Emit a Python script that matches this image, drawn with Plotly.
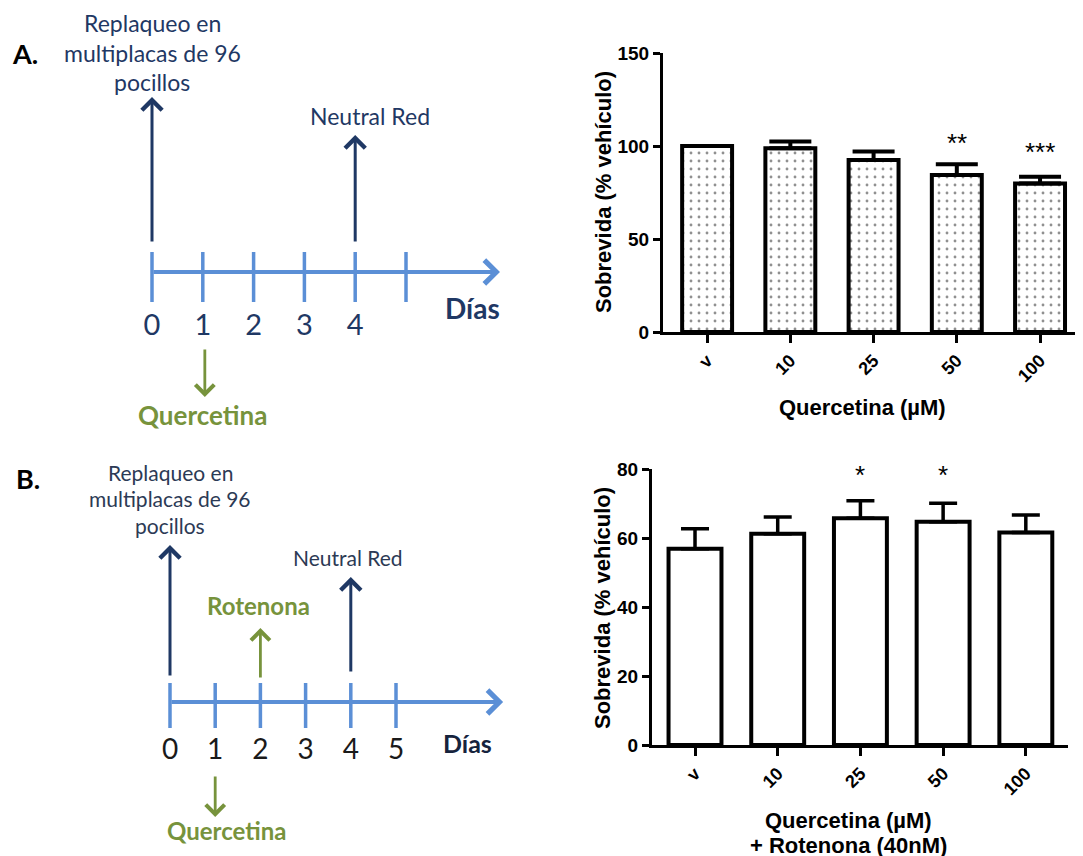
import plotly.graph_objects as go

W, H = 1083, 856
OX, OY = 8, 8  # page body offset compensation

# ---------------- data ----------------
categories = ["v", "10", "25", "50", "100"]
survA_mean = [100, 98.8, 92.5, 84.4, 79.9]
survA_sem = [0, 3.6, 4.5, 5.8, 3.6]
survA_sig = ["", "", "", "**", "***"]
survA_sig_y = [None, None, None, 101.5, 97]

survB_mean = [56.9, 61.2, 65.7, 64.7, 61.6]
survB_sem = [5.8, 4.9, 5.1, 5.4, 5.1]
survB_sig = ["", "", "*", "*", ""]
survB_sig_y = [None, None, 78.3, 78.3, None]

daysA = [0, 1, 2, 3, 4, 5]
day_labelsA = ["0", "1", "2", "3", "4", ""]
daysB = [0, 1, 2, 3, 4, 5]
day_labelsB = ["0", "1", "2", "3", "4", "5"]

eventsA = {"replaqueo": 0, "quercetina": 1, "neutral": 4}
eventsB = {"replaqueo": 0, "quercetina": 1, "rotenona": 2, "neutral": 4}

# ---------------- styles ----------------
BLUE = "#5B8FD6"
NAVY = "#1F3864"
NAVY_B = "#2C3A55"
GREEN = "#77933C"
BAR_FONT = "Liberation Sans"
TL_FONT = "Lato"


def px_x(p):
    return (p - OX) / W


def px_y(p):
    return 1 - (p - OY) / H


fig = go.Figure()

# ---------------- bar chart A ----------------
fig.add_trace(go.Bar(
    x=categories, y=survA_mean, xaxis="x", yaxis="y", width=0.6,
    marker=dict(color="white", line=dict(color="black", width=4),
                pattern=dict(shape=".", size=8, solidity=0.1, fgcolor="#222222", bgcolor="white")),
    error_y=dict(type="data", symmetric=False, array=survA_sem, arrayminus=[0] * 5,
                 thickness=4, width=21, color="black"),
    showlegend=False, hoverinfo="skip"))

# ---------------- bar chart B ----------------
fig.add_trace(go.Bar(
    x=categories, y=survB_mean, xaxis="x2", yaxis="y2", width=0.64,
    marker=dict(color="white", line=dict(color="black", width=4)),
    error_y=dict(type="data", symmetric=False, array=survB_sem, arrayminus=[0] * 5,
                 thickness=3.5, width=14, color="black"),
    showlegend=False, hoverinfo="skip"))

annotations = []
for i, (s, yv) in enumerate(zip(survA_sig, survA_sig_y)):
    if s:
        annotations.append(dict(x=i, y=yv, xref="x", yref="y", text=s, showarrow=False,
                                xanchor="center", yanchor="middle",
                                font=dict(family=BAR_FONT, size=26, color="black")))
for i, (s, yv) in enumerate(zip(survB_sig, survB_sig_y)):
    if s:
        annotations.append(dict(x=i, y=yv, xref="x2", yref="y2", text=s, showarrow=False,
                                xanchor="center", yanchor="middle",
                                font=dict(family=BAR_FONT, size=26, color="black")))


def paper_text(x, y, text, font, angle=0):
    return dict(x=px_x(x), y=px_y(y), xref="paper", yref="paper", text=text, textangle=angle,
                xanchor="center", yanchor="middle", showarrow=False, font=font)


ytitle_font = dict(family=BAR_FONT, size=22, color="black", weight="bold")
xtitle_font = dict(family=BAR_FONT, size=22, color="black", weight="bold")
annotations += [
    paper_text(603, 192, "Sobrevida (% vehículo)", ytitle_font, -90),
    paper_text(602, 608, "Sobrevida (% vehículo)", ytitle_font, -90),
    paper_text(862, 407, "Quercetina (µM)", xtitle_font),
    paper_text(848, 820, "Quercetina (µM)", xtitle_font),
    paper_text(848, 845, "+ Rotenona (40nM)", xtitle_font),
    paper_text(25, 53, "A.", dict(family=TL_FONT, size=27, color="black", weight="bold")),
    paper_text(28, 478, "B.", dict(family=TL_FONT, size=27, color="black", weight="bold")),
]

# ---------------- timelines ----------------
A_AXIS_Y, A_TICK_TOP, A_TICK_BOT = 272, 252, 302
B_AXIS_Y, B_TICK_TOP, B_TICK_BOT = 702, 683, 728
A_END_DAY, B_END_DAY = 6.85, 7.37


def tick_xy(days, top, bot):
    xs, ys = [], []
    for d in days:
        xs += [d, d, None]
        ys += [top, bot, None]
    return xs, ys


xs, ys = tick_xy(daysA, A_TICK_TOP, A_TICK_BOT)
fig.add_trace(go.Scatter(x=xs, y=ys, xaxis="x3", yaxis="y3", mode="lines",
                         line=dict(color=BLUE, width=3.5), showlegend=False, hoverinfo="skip"))
xs, ys = tick_xy(daysB, B_TICK_TOP, B_TICK_BOT)
fig.add_trace(go.Scatter(x=xs, y=ys, xaxis="x4", yaxis="y3", mode="lines",
                         line=dict(color=BLUE, width=3.5), showlegend=False, hoverinfo="skip"))

fig.add_trace(go.Scatter(x=daysA, y=[328] * len(daysA), xaxis="x3", yaxis="y3", mode="text",
                         text=day_labelsA, textfont=dict(family=TL_FONT, size=29, color=NAVY),
                         showlegend=False, hoverinfo="skip"))
fig.add_trace(go.Scatter(x=daysB, y=[752] * len(daysB), xaxis="x4", yaxis="y3", mode="text",
                         text=day_labelsB, textfont=dict(family=TL_FONT, size=28, color="#1a1a1a"),
                         showlegend=False, hoverinfo="skip"))


def arrow(xref, x, y_tail, y_tip, color, width, size=1.0, head=4, x_tail=None):
    return dict(x=x, y=y_tip, ax=x if x_tail is None else x_tail, ay=y_tail,
                xref=xref, yref="y3", axref=xref, ayref="y3", text="",
                showarrow=True, arrowhead=head, arrowsize=size, arrowwidth=width,
                arrowcolor=color, standoff=0, startstandoff=0)


annotations.append(arrow("x3", A_END_DAY, A_AXIS_Y, A_AXIS_Y, BLUE, 4, 1.15, 4, x_tail=daysA[0]))
annotations.append(arrow("x4", B_END_DAY, B_AXIS_Y, B_AXIS_Y, BLUE, 4, 1.15, 4, x_tail=daysB[0]))

annotations.append(arrow("x3", eventsA["replaqueo"], 243, 97, NAVY, 3, 1.3))
annotations.append(arrow("x3", eventsA["neutral"], 243, 135, NAVY, 3, 1.3))
annotations.append(arrow("x3", eventsA["quercetina"] + 0.04, 348, 397, GREEN, 2.8, 1.3))
annotations.append(arrow("x4", eventsB["replaqueo"], 677, 545, NAVY, 3, 1.3))
annotations.append(arrow("x4", eventsB["neutral"], 673, 577, NAVY, 3, 1.3))
annotations.append(arrow("x4", eventsB["rotenona"], 679, 628, GREEN, 2.8, 1.3))
annotations.append(arrow("x4", eventsB["quercetina"], 775, 817, GREEN, 2.8, 1.3))


def label(xref, x, y, text, size, color, bold=False):
    f = dict(family=TL_FONT, size=size, color=color)
    if bold:
        f["weight"] = "bold"
    return dict(x=x, y=y, xref=xref, yref="y3", text=text, showarrow=False,
                xanchor="center", yanchor="middle", font=f)


for t, yy in zip(["Replaqueo en", "multiplacas de 96", "pocillos"], [23, 53, 82]):
    annotations.append(label("x3", eventsA["replaqueo"], yy, t, 23, NAVY))
annotations.append(label("x3", 4.29, 116, "Neutral Red", 23, NAVY))
annotations.append(label("x3", eventsA["quercetina"], 415, "Quercetina", 26, GREEN, True))
annotations.append(label("x3", 6.3, 308, "Días", 28, NAVY, True))

for t, yy in zip(["Replaqueo en", "multiplacas de 96", "pocillos"], [472, 498, 525]):
    annotations.append(label("x4", eventsB["replaqueo"], yy, t, 21, NAVY_B))
annotations.append(label("x4", 3.94, 557, "Neutral Red", 21, NAVY_B))
annotations.append(label("x4", 1.95, 605, "Rotenona", 24, GREEN, True))
annotations.append(label("x4", 1.26, 830, "Quercetina", 24, GREEN, True))
annotations.append(label("x4", 6.59, 743, "Días", 25, "#16233d", True))

tickfont = dict(family=BAR_FONT, size=18, color="black", weight="bold")
xcommon = dict(type="category", showline=True, linewidth=3, linecolor="black", ticks="outside",
               ticklen=8, tickwidth=3, tickcolor="black", tickangle=-45, tickfont=tickfont,
               showgrid=False, zeroline=False, fixedrange=True, automargin=False)
ycommon = dict(showline=True, linewidth=3, linecolor="black", ticks="outside", ticklen=7,
               tickwidth=3, tickcolor="black",
               tickfont=dict(family=BAR_FONT, size=19, color="black", weight="bold"),
               showgrid=False, zeroline=False, fixedrange=True, automargin=False)

pxA, pxB = 50.8, 45.2
fig.update_layout(
    width=W, height=H, margin=dict(l=0, r=0, t=0, b=0, pad=0, autoexpand=False),
    paper_bgcolor="white", plot_bgcolor="rgba(0,0,0,0)",
    showlegend=False,
    xaxis=dict(domain=[px_x(663), px_x(1080)], anchor="y", range=[-0.53, 4.48], **xcommon),
    yaxis=dict(domain=[px_y(332), px_y(53)], anchor="x", range=[0, 150], dtick=50, **ycommon),
    xaxis2=dict(domain=[px_x(652), px_x(1068)], anchor="y2", range=[-0.52, 4.51], **xcommon),
    yaxis2=dict(domain=[px_y(745), px_y(469)], anchor="x2", range=[0, 80], dtick=20, **ycommon),
    xaxis3=dict(domain=[0, 1], anchor="y3", range=[-(152 - OX) / pxA, -(152 - OX) / pxA + W / pxA],
                visible=False, fixedrange=True, automargin=False),
    xaxis4=dict(domain=[0, 1], anchor="y3", range=[-(170 - OX) / pxB, -(170 - OX) / pxB + W / pxB],
                visible=False, fixedrange=True, automargin=False),
    yaxis3=dict(domain=[0, 1], anchor="x3", range=[H + OY, OY], visible=False, fixedrange=True,
                automargin=False),
    annotations=annotations,
)

fig.write_html("out.html")
